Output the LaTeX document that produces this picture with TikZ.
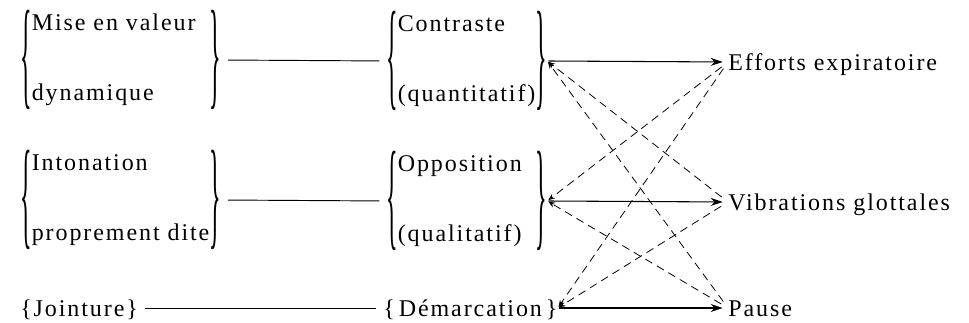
\documentclass[tikz,border=0pt]{standalone}
\usepackage{amsmath}
\usepackage{graphicx}
\usepackage{fontspec}
\setmainfont{Liberation Serif}[LetterSpace=8]
\usetikzlibrary{arrows.meta}
% a text brace stretched to the height of two lines
\newcommand{\tallbr}[1]{\vcenter{\hbox{\scalebox{1}[5]{#1}}}}
% two lines between tall braces, padded to the width of #1
\newcommand{\twoline}[3]{$\tallbr{\{}\begin{array}{@{}l@{}}\rlap{#2}\hphantom{\text{#1}}\\[31.5pt]\rlap{#3}\hphantom{\text{#1}}\end{array}\tallbr{\}}$}

\begin{document}
\begin{tikzpicture}[x=0.75pt,y=-0.75pt,
    lbl/.style={font=\fontsize{18}{21}\selectfont,inner sep=0pt,anchor=west},
    flat/.style={lbl,text height=13.5pt,text depth=0pt},
    link/.style={line width=0.7pt,shorten <=5pt,shorten >=5pt},
    main/.style={line width=0.8pt,shorten <=1pt,shorten >=4pt,-{Stealth[length=9pt,width=6pt]}},
    back/.style={line width=0.6pt,dash pattern=on 6pt off 4pt,shorten <=6pt,shorten >=1pt,-{Stealth[length=5pt,width=4pt]}}]
  \useasboundingbox (0,0) rectangle (969,323);
  % left column
  \node[lbl] (mise) at (20,60) {\twoline{proprement dite}{Mise en valeur}{dynamique}};
  \node[lbl] (inton) at (20,200) {\twoline{proprement dite}{Intonation}{proprement dite}};
  \node[flat] (joint) at (20,308) {\{Jointure\}};
  % middle column
  \node[lbl] (contr) at (386,61) {\twoline{(quantitatif)}{Contraste}{(quantitatif)}};
  \node[lbl] (oppos) at (386,201) {\twoline{(quantitatif)}{Opposition}{(qualitatif)}};
  \node[flat] (demarc) at (383,308) {\{\,Démarcation\,\}};
  % right column
  \node[flat] (eff) at (728,62) {Efforts expiratoire};
  \node[flat] (vib) at (728,202) {Vibrations glottales};
  \node[flat] (pause) at (728,308) {Pause};
  % plain links
  \draw[link] (mise.east) -- (contr.west);
  \draw[link] (inton.east) -- (oppos.west);
  \draw[link] (joint.east) -- (demarc.west);
  % main correspondences
  \draw[main] (contr.east) -- (eff.west);
  \draw[main] (oppos.east) -- (vib.west);
  \draw[main] (demarc.east) -- (pause.west);
  % secondary correspondences
  \draw[back] (vib.west) -- (contr.east);
  \draw[back] (pause.west) -- (contr.east);
  \draw[back] (eff.west) -- (oppos.east);
  \draw[back] (pause.west) -- (oppos.east);
  \draw[back] (eff.west) -- (demarc.east);
  \draw[back] (vib.west) -- (demarc.east);
\end{tikzpicture}
\end{document}
